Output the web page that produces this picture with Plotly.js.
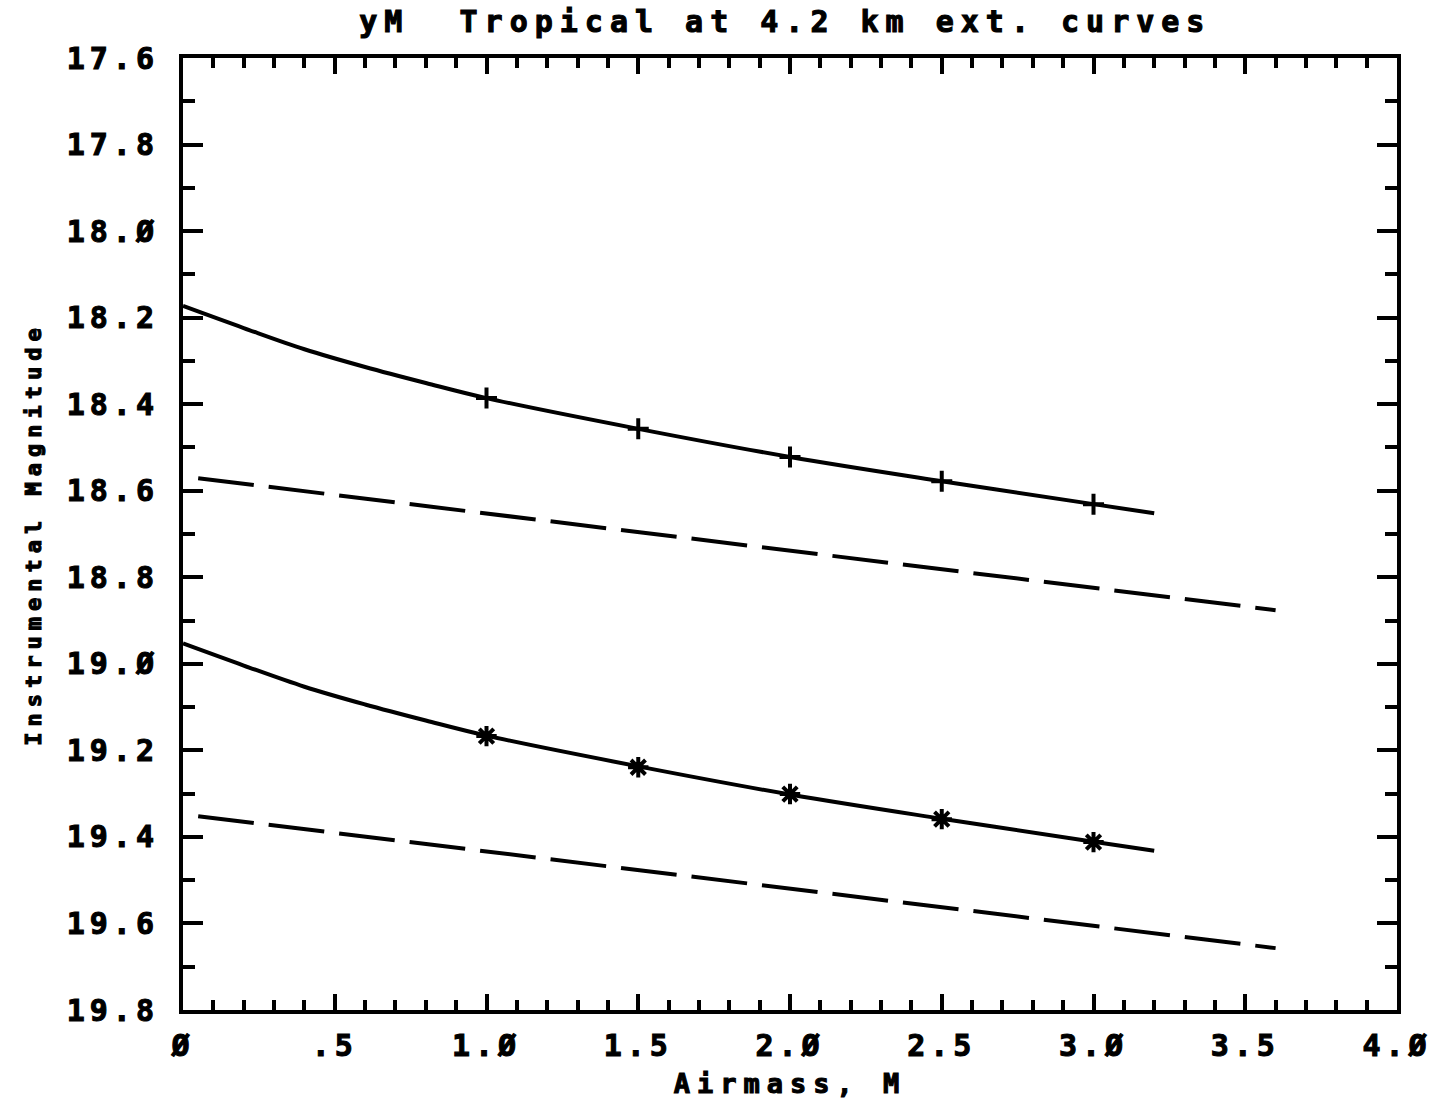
<!DOCTYPE html>
<html>
<head>
<meta charset="utf-8">
<script src="https://cdn.plot.ly/plotly-3.0.1.min.js"></script>
<style>
  html, body { margin: 0; padding: 0; background: #fff; }
  #chart { width: 1441px; height: 1099px; }
  .gtitle { letter-spacing: 7px; }
  .xtick text, .ytick text { letter-spacing: 5px; }
  .xtitle { letter-spacing: 7px; }
  .ytitle { letter-spacing: 6px; }
  .gtitle, .xtick text, .ytick text, .xtitle, .ytitle { stroke: #000; stroke-width: 1.1px; }
</style>
</head>
<body>
<div id="chart"></div>
<script>
// Airmass sample points along the model curves
const airmassCurve = [0, 0.2, 0.4, 0.6, 0.8, 1.0, 1.5, 2.0, 2.5, 3.0, 3.2];
const magUpperCurve = [18.173, 18.224, 18.273, 18.314, 18.351, 18.386, 18.457, 18.522, 18.578, 18.631, 18.652];
const magLowerCurve = [18.953, 19.004, 19.053, 19.094, 19.131, 19.166, 19.237, 19.302, 19.358, 19.411, 19.432];

// Marked points
const airmassMarks = [1.0, 1.5, 2.0, 2.5, 3.0];
const magUpperMarks = [18.386, 18.457, 18.522, 18.578, 18.631];
const magLowerMarks = [19.167, 19.239, 19.301, 19.359, 19.412];

// Dashed linear extinction lines
const airmassDash = [0.05, 3.6];
const magUpperDash = [18.571, 18.876];
const magLowerDash = [19.352, 19.657];

// Tick labels
const xTickVals = [0, 0.5, 1.0, 1.5, 2.0, 2.5, 3.0, 3.5, 4.0];
const xTickText = ["Ø", ".5", "1.Ø", "1.5", "2.Ø", "2.5", "3.Ø", "3.5", "4.Ø"];
const yTickVals = [17.6, 17.8, 18.0, 18.2, 18.4, 18.6, 18.8, 19.0, 19.2, 19.4, 19.6, 19.8];
const yTickText = ["17.6", "17.8", "18.Ø", "18.2", "18.4", "18.6", "18.8", "19.Ø", "19.2", "19.4", "19.6", "19.8"];

const black = '#000';
const font = 'DejaVu Sans Mono, Liberation Mono, monospace';

const traces = [
  { x: airmassCurve, y: magUpperCurve, mode: 'lines', line: { color: black, width: 4, shape: 'spline' }, hoverinfo: 'skip' },
  { x: airmassCurve, y: magLowerCurve, mode: 'lines', line: { color: black, width: 4, shape: 'spline' }, hoverinfo: 'skip' },
  { x: airmassMarks, y: magUpperMarks, mode: 'markers', marker: { symbol: 'cross-thin', size: 15, line: { color: black, width: 4 } } },
  { x: airmassMarks, y: magLowerMarks, mode: 'markers', marker: { symbol: 'asterisk', size: 17, line: { color: black, width: 4 } } },
  { x: airmassDash, y: magUpperDash, mode: 'lines', line: { color: black, width: 4, dash: '56px,15px' } },
  { x: airmassDash, y: magLowerDash, mode: 'lines', line: { color: black, width: 4, dash: '56px,15px' } }
];

const layout = {
  width: 1441, height: 1099,
  margin: { l: 183, r: 44, t: 58, b: 89 },
  paper_bgcolor: '#fff', plot_bgcolor: '#fff',
  showlegend: false,
  font: { family: font, color: black, weight: 'bold' },
  title: {
    text: 'yM  Tropical at 4.2 km ext. curves',
    font: { family: font, size: 30, color: black, weight: 'bold' },
    x: 0.545, xanchor: 'center', y: 0.98, yanchor: 'middle'
  },
  xaxis: {
    range: [0, 4],
    tickmode: 'array', tickvals: xTickVals, ticktext: xTickText,
    ticks: 'inside', ticklen: 16, tickwidth: 4, tickcolor: black,
    minor: { dtick: 0.1, ticks: 'inside', ticklen: 10, tickwidth: 4, tickcolor: black },
    showline: true, linewidth: 4, linecolor: black, mirror: 'ticks',
    showgrid: false, zeroline: false,
    tickfont: { family: font, size: 30, color: black, weight: 'bold' },
    ticklabelstandoff: 6,
    title: { text: 'Airmass, M', font: { family: font, size: 27, color: black, weight: 'bold' }, standoff: 14 }
  },
  yaxis: {
    range: [19.8, 17.6],
    tickmode: 'array', tickvals: yTickVals, ticktext: yTickText,
    ticks: 'inside', ticklen: 20, tickwidth: 4, tickcolor: black,
    minor: { dtick: 0.1, ticks: 'inside', ticklen: 12, tickwidth: 4, tickcolor: black },
    showline: true, linewidth: 4, linecolor: black, mirror: 'ticks',
    showgrid: false, zeroline: false,
    tickfont: { family: font, size: 30, color: black, weight: 'bold' },
    ticklabelstandoff: 14,
    title: { text: 'Instrumental Magnitude', font: { family: font, size: 22, color: black, weight: 'bold' }, standoff: 20 }
  }
};

Plotly.newPlot('chart', traces, layout, { staticPlot: true, displayModeBar: false });
</script>
</body>
</html>
